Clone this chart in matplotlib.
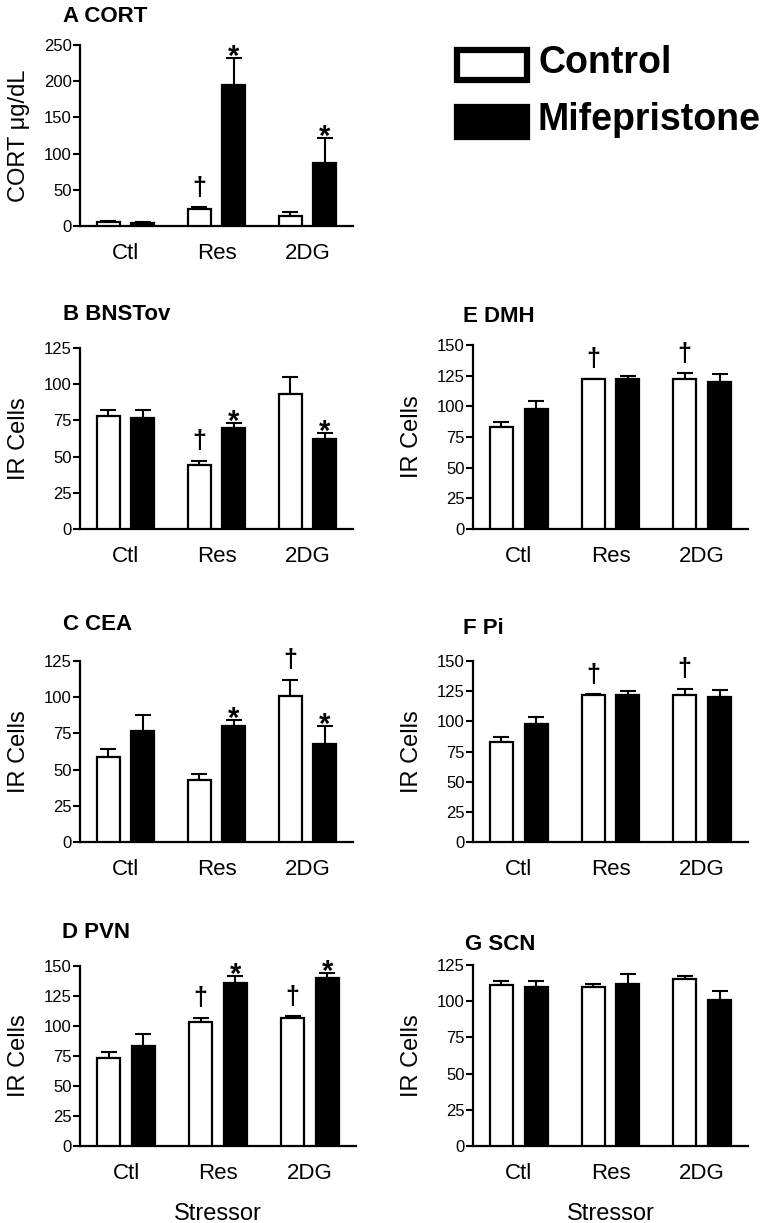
import matplotlib
matplotlib.use("Agg")
import matplotlib.pyplot as plt
from matplotlib.patches import Rectangle
import numpy as np

plt.rcParams['font.family'] = ['Liberation Sans', 'DejaVu Sans']

groups = ["Ctl", "Res", "2DG"]
series_names = ["Control", "Mifepristone"]

# panel A: CORT
cort_ctrl = [6, 24, 14]
cort_ctrl_err = [1, 2, 5]
cort_mife = [4, 195, 87]
cort_mife_err = [1, 37, 35]
cort_ctrl_sig = ["", "†", ""]
cort_mife_sig = ["", "*", "*"]

# panel B: BNSTov
bnst_ctrl = [78, 44, 93]
bnst_ctrl_err = [4, 3, 12]
bnst_mife = [77, 70, 62]
bnst_mife_err = [5, 3, 4]
bnst_ctrl_sig = ["", "†", ""]
bnst_mife_sig = ["", "*", "*"]

# panel C: CEA
cea_ctrl = [59, 43, 101]
cea_ctrl_err = [5, 4, 11]
cea_mife = [77, 80, 68]
cea_mife_err = [11, 4, 12]
cea_ctrl_sig = ["", "", "†"]
cea_mife_sig = ["", "*", "*"]

# panel D: PVN
pvn_ctrl = [73, 103, 107]
pvn_ctrl_err = [5, 4, 1]
pvn_mife = [83, 136, 140]
pvn_mife_err = [10, 6, 4]
pvn_ctrl_sig = ["", "†", "†"]
pvn_mife_sig = ["", "*", "*"]

# panel E: DMH
dmh_ctrl = [83, 122, 122]
dmh_ctrl_err = [4, 0.5, 5]
dmh_mife = [98, 122, 120]
dmh_mife_err = [6, 3, 6]
dmh_ctrl_sig = ["", "†", "†"]
dmh_mife_sig = ["", "", ""]

# panel F: Pi
pi_ctrl = [83, 122, 122]
pi_ctrl_err = [4, 0.5, 5]
pi_mife = [98, 122, 120]
pi_mife_err = [6, 3, 6]
pi_ctrl_sig = ["", "†", "†"]
pi_mife_sig = ["", "", ""]

# panel G: SCN
scn_ctrl = [111, 110, 115]
scn_ctrl_err = [3, 2, 2.5]
scn_mife = [110, 112, 101]
scn_mife_err = [4, 7, 6]
scn_ctrl_sig = ["", "", ""]
scn_mife_sig = ["", "", ""]

W, H = 772, 1223
fig = plt.figure(figsize=(W / 100, H / 100), dpi=100)


def px_axes(x0, y0, x1, y1):
    return fig.add_axes([x0 / W, 1 - y1 / H, (x1 - x0) / W, (y1 - y0) / H])


def draw_panel(rect, title, title_xy, ylabel, ymax, ystep,
               ctrl, ctrl_err, mife, mife_err, ctrl_sig, mife_sig, xlabel=None):
    ax = px_axes(*rect)
    x = np.arange(len(groups))
    off = 0.19
    w = 0.25
    zeros = [0] * len(groups)
    ax.bar(x - off, ctrl, w, color="white", edgecolor="black", linewidth=1.6, zorder=3)
    ax.bar(x + off, mife, w, color="black", edgecolor="black", linewidth=1.6, zorder=3)
    ax.errorbar(x - off, ctrl, yerr=[zeros, ctrl_err], fmt="none", ecolor="black",
                elinewidth=1.5, capsize=6, capthick=1.5, zorder=2)
    ax.errorbar(x + off, mife, yerr=[zeros, mife_err], fmt="none", ecolor="black",
                elinewidth=1.5, capsize=6, capthick=1.5, zorder=2)
    for xs, vals, errs, sigs in [(x - off, ctrl, ctrl_err, ctrl_sig),
                                 (x + off, mife, mife_err, mife_sig)]:
        for xi, v, e, s in zip(xs, vals, errs, sigs):
            if not s:
                continue
            if s == "†":
                dy, fs = 9, 18
            else:
                dy, fs = -5, 21
            ax.annotate(s, (xi, v + e), xytext=(0, dy), textcoords="offset points",
                        ha="center", va="baseline", fontsize=fs, fontweight="bold",
                        annotation_clip=False)
    ax.set_xlim(-0.5, 2.5)
    ax.set_ylim(0, ymax)
    ax.set_yticks(np.arange(0, ymax + 1, ystep))
    ax.set_xticks(x)
    ax.set_xticklabels(groups, fontsize=16)
    ax.tick_params(axis="x", length=0, pad=12)
    ax.tick_params(axis="y", direction="out", length=5, width=1.5, pad=1, labelsize=12)
    for side in ["top", "right"]:
        ax.spines[side].set_visible(False)
    for side in ["left", "bottom"]:
        ax.spines[side].set_linewidth(1.6)
    ax.set_ylabel(ylabel, fontsize=17, labelpad=10)
    if xlabel:
        ax.set_xlabel(xlabel, fontsize=17, labelpad=14)
    fig.text(title_xy[0] / W, 1 - title_xy[1] / H, title, fontsize=16,
             fontweight="bold", ha="left", va="center")
    return ax


draw_panel((80, 45, 353, 226), "A CORT", (63, 17), "CORT μg/dL", 250, 50,
           cort_ctrl, cort_ctrl_err, cort_mife, cort_mife_err, cort_ctrl_sig, cort_mife_sig)
draw_panel((80, 348, 353, 529), "B BNSTov", (63, 315), "IR Cells", 125, 25,
           bnst_ctrl, bnst_ctrl_err, bnst_mife, bnst_mife_err, bnst_ctrl_sig, bnst_mife_sig)
draw_panel((80, 661, 353, 842), "C CEA", (63, 625), "IR Cells", 125, 25,
           cea_ctrl, cea_ctrl_err, cea_mife, cea_mife_err, cea_ctrl_sig, cea_mife_sig)
draw_panel((80, 966, 356, 1146), "D PVN", (62, 933), "IR Cells", 150, 25,
           pvn_ctrl, pvn_ctrl_err, pvn_mife, pvn_mife_err, pvn_ctrl_sig, pvn_mife_sig,
           xlabel="Stressor")
draw_panel((473, 345, 748, 529), "E DMH", (463, 316), "IR Cells", 150, 25,
           dmh_ctrl, dmh_ctrl_err, dmh_mife, dmh_mife_err, dmh_ctrl_sig, dmh_mife_sig)
draw_panel((473, 661, 748, 842), "F Pi", (463, 628), "IR Cells", 150, 25,
           pi_ctrl, pi_ctrl_err, pi_mife, pi_mife_err, pi_ctrl_sig, pi_mife_sig)
draw_panel((473, 965, 748, 1146), "G SCN", (465, 944), "IR Cells", 125, 25,
           scn_ctrl, scn_ctrl_err, scn_mife, scn_mife_err, scn_ctrl_sig, scn_mife_sig,
           xlabel="Stressor")

# legend drawn by hand
for name, face, top in [(series_names[0], "white", 50), (series_names[1], "black", 107)]:
    fig.patches.append(Rectangle((457 / W, 1 - (top + 30) / H), 70 / W, 30 / H,
                                 facecolor=face, edgecolor="black", linewidth=4.5,
                                 transform=fig.transFigure, figure=fig))
    fig.text(538 / W, 1 - (top + 13) / H, name, fontsize=27, fontweight="bold",
             ha="left", va="center")

fig.savefig("out.png", dpi=100)
